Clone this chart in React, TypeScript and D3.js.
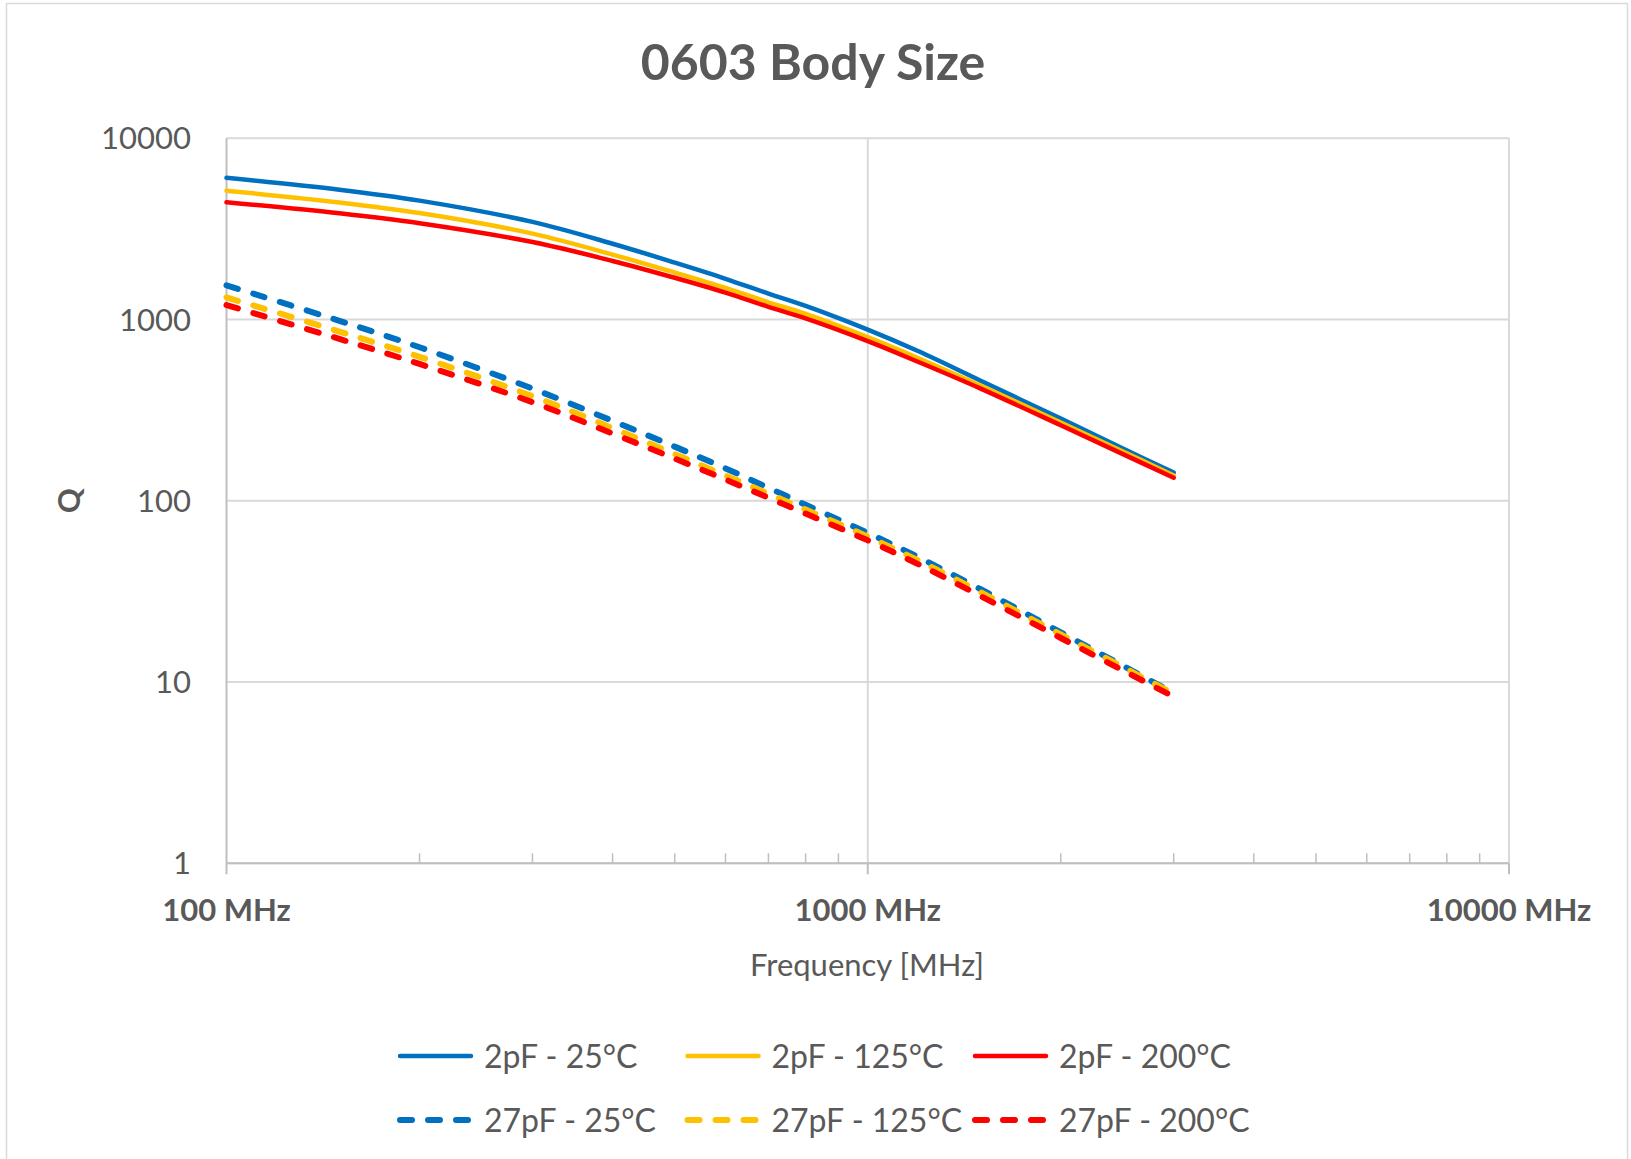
import React from 'react';
import * as d3 from 'd3';

const chartTitle = '0603 Body Size';
const xAxisTitle = 'Frequency [MHz]';
const yAxisTitle = 'Q';

const freqs = [100, 150, 200, 300, 400, 500, 600, 700, 800, 1000, 1200, 1500, 2000, 2500, 3000];

const q2pF25 = [6060, 5208, 4532, 3458, 2620, 2061, 1679, 1389, 1190, 880, 668, 460, 284, 194, 143];
const q2pF125 = [5140, 4428, 3868, 2979, 2283, 1816, 1494, 1245, 1075, 800, 612, 432, 270, 187, 138];
const q2pF200 = [4437, 3855, 3400, 2676, 2105, 1700, 1409, 1175, 1015, 760, 583, 416, 261, 181, 134];
const q27pF25 = [1545, 984, 703, 416, 276, 199, 151, 118, 95, 66.5, 48.8, 32.5, 18.8, 12.3, 8.7];
const q27pF125 = [1324, 859, 623, 378, 252, 181, 138, 109.5, 89.5, 63.5, 46.8, 31.3, 18.3, 12.1, 8.6];
const q27pF200 = [1202, 782, 569, 350, 235, 171, 131, 104, 85, 60.5, 44.6, 29.8, 17.5, 11.6, 8.3];

const seriesNames = [
  '2pF - 25°C', '2pF - 125°C', '2pF - 200°C',
  '27pF - 25°C', '27pF - 125°C', '27pF - 200°C',
];
const seriesValues = [q2pF25, q2pF125, q2pF200, q27pF25, q27pF125, q27pF200];
const seriesColors = ['#0070C0', '#FFC000', '#FF0000', '#0070C0', '#FFC000', '#FF0000'];
const seriesDashed = [false, false, false, true, true, true];

const xTickValues = [100, 1000, 10000];
const xTickLabels = ['100 MHz', '1000 MHz', '10000 MHz'];
const xMinorTicks = [200, 300, 400, 500, 600, 700, 800, 900, 2000, 3000, 4000, 5000, 6000, 7000, 8000, 9000];
const yTickValues = [1, 10, 100, 1000, 10000];

const W = 1631;
const H = 1159;
const FONT = 'Lato, "Open Sans", sans-serif';
const TEXT = '#595959';

export default function App() {
  const left = 226.5, right = 1509, top = 138.3, bottom = 863.3;
  const x = d3.scaleLog().domain([100, 10000]).range([left, right]);
  const y = d3.scaleLog().domain([1, 10000]).range([bottom, top]);

  const line = d3
    .line<[number, number]>()
    .x((d) => x(d[0]))
    .y((d) => y(d[1]))
    .curve(d3.curveCatmullRom.alpha(0.5));

  const legendCols = [397, 684.5, 972];
  const legendRows = [1056, 1120];

  return (
    <svg
      width={W}
      height={H}
      style={{ position: 'absolute', left: 0, top: 0, background: '#fff' }}
      fontFamily={FONT}
    >
      <rect x={0} y={0} width={W} height={H} fill="#fff" />
      <rect x={6.5} y={3.5} width={1621} height={1180} fill="#fff" stroke="#d9d9d9" strokeWidth={1.5} />

      <text x={813} y={80} textAnchor="middle" fontSize={50} fontWeight={700} fill={TEXT}>
        {chartTitle}
      </text>

      {/* gridlines */}
      {yTickValues.map((v) => (
        <line key={'gy' + v} x1={left} x2={right} y1={y(v)} y2={y(v)} stroke="#d9d9d9" strokeWidth={2} />
      ))}
      {xTickValues.slice(1).map((v) => (
        <line key={'gx' + v} x1={x(v)} x2={x(v)} y1={top} y2={bottom} stroke="#d9d9d9" strokeWidth={2} />
      ))}

      {/* axes */}
      <line x1={left} x2={left} y1={top} y2={bottom} stroke="#bfbfbf" strokeWidth={2} />
      <line x1={left} x2={right} y1={bottom} y2={bottom} stroke="#bfbfbf" strokeWidth={2} />
      {xTickValues.map((v) => (
        <line key={'tx' + v} x1={x(v)} x2={x(v)} y1={bottom} y2={bottom + 11} stroke="#bfbfbf" strokeWidth={2} />
      ))}
      {xMinorTicks.map((v) => (
        <line key={'mx' + v} x1={x(v)} x2={x(v)} y1={bottom} y2={bottom - 10} stroke="#bfbfbf" strokeWidth={1.5} />
      ))}

      {/* y tick labels */}
      {yTickValues.map((v) => (
        <text key={'ly' + v} x={191} y={y(v)} dy="0.36em" textAnchor="end" fontSize={31} fill={TEXT}>
          {String(v)}
        </text>
      ))}
      {/* x tick labels */}
      {xTickValues.map((v, i) => (
        <text key={'lx' + v} x={x(v)} y={921} textAnchor="middle" fontSize={31} fontWeight={700} fill={TEXT}>
          {xTickLabels[i]}
        </text>
      ))}

      <text x={867} y={976} textAnchor="middle" fontSize={31} fill={TEXT}>
        {xAxisTitle}
      </text>
      <text
        transform={`translate(80, ${(top + bottom) / 2}) rotate(-90)`}
        textAnchor="middle"
        fontSize={31}
        fontWeight={700}
        fill={TEXT}
      >
        {yAxisTitle}
      </text>

      {/* series */}
      {seriesValues.map((vals, i) => {
        const pts = freqs.map((f, j) => [f, vals[j]] as [number, number]);
        return (
          <path
            key={'s' + i}
            d={line(pts) || ''}
            fill="none"
            stroke={seriesColors[i]}
            strokeWidth={seriesDashed[i] ? 6 : 4.5}
            strokeDasharray={seriesDashed[i] ? '12 16' : undefined}
            strokeLinecap="round"
            strokeLinejoin="round"
          />
        );
      })}

      {/* legend */}
      {seriesNames.map((name, i) => {
        const col = i % 3;
        const row = Math.floor(i / 3);
        const lx = legendCols[col];
        const ly = legendRows[row];
        return (
          <g key={'lg' + i}>
            <line
              x1={lx + 3}
              x2={lx + 74}
              y1={ly}
              y2={ly}
              stroke={seriesColors[i]}
              strokeWidth={seriesDashed[i] ? 6 : 4.5}
              strokeDasharray={seriesDashed[i] ? '12 16' : undefined}
              strokeLinecap="round"
            />
            <text x={lx + 87} y={ly} dy="0.36em" fontSize={32} fill={TEXT}>
              {name}
            </text>
          </g>
        );
      })}
    </svg>
  );
}
